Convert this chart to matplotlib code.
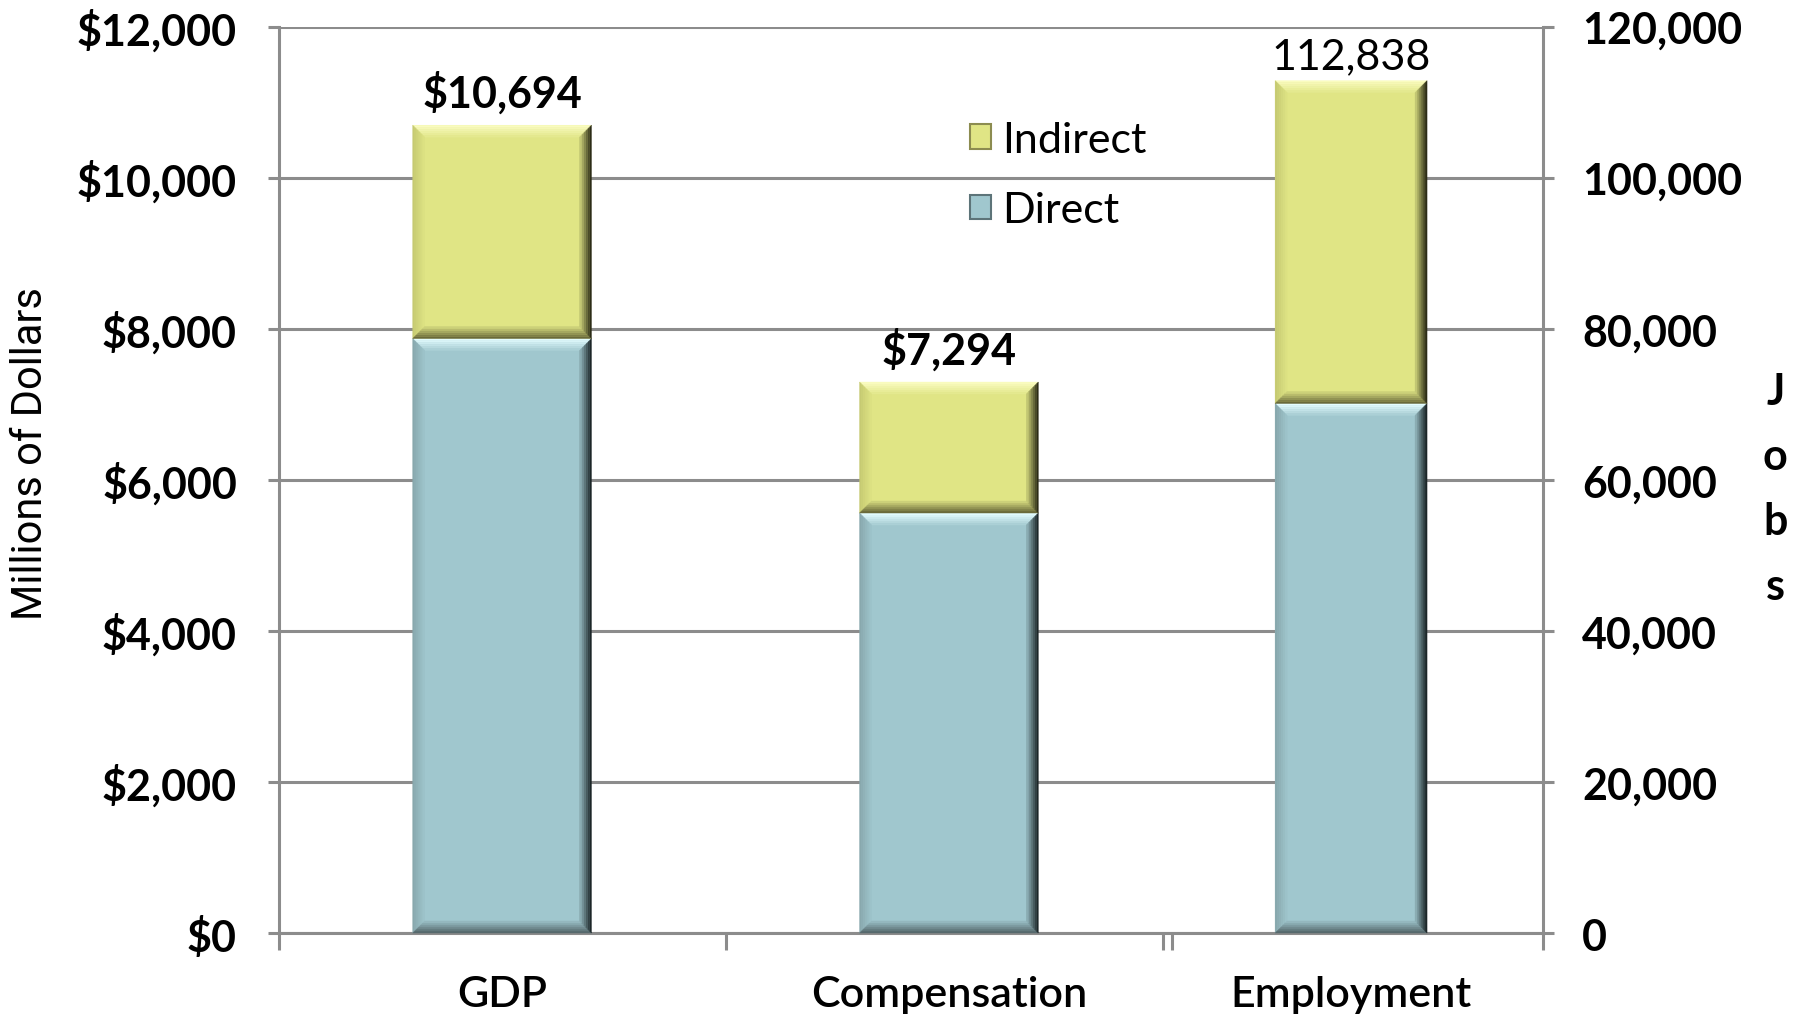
import matplotlib
matplotlib.use("Agg")
import numpy as np
import matplotlib.pyplot as plt
import matplotlib.font_manager as fm
from matplotlib.colors import to_rgb
from matplotlib.patches import Polygon, Patch
from matplotlib.transforms import IdentityTransform
from matplotlib.ticker import FuncFormatter, FixedLocator

# ======================= DONNEES =======================
categories_usd = ["GDP", "Compensation"]
direct_usd = [7870, 5560]          # millions de dollars
indirect_usd = [2824, 1734]
category_jobs = "Employment"
direct_jobs = 70100
indirect_jobs = 42738
y_ticks_usd = [0, 2000, 4000, 6000, 8000, 10000, 12000]
y_ticks_jobs = [0, 20000, 40000, 60000, 80000, 100000, 120000]

# ======================= STYLE =======================
C_DIRECT = "#a0c7ce"
C_INDIRECT = "#e0e585"
C_GRID = "#8c8c8c"
FS = 31

names = {f.name for f in fm.fontManager.ttflist}
MAIN = ["Lato", "DejaVu Sans"]
NARROW = ["Liberation Sans Narrow"] if "Liberation Sans Narrow" in names else ["Roboto", "DejaVu Sans"]
plt.rcParams["font.family"] = MAIN

fig = plt.figure(figsize=(18.06, 10.2), dpi=100)
ax = fig.add_axes([0.1543, 0.0843, 0.7002, 0.8887])
ax2 = ax.twinx()

# positions (unites de categorie du 1er axe)
x_usd = [0, 1]
x_jobs = 1.90
w_usd = 0.40
w_jobs = 0.34
X_MIN, X_MAX = -0.5, 2.33

ax.set_xlim(X_MIN, X_MAX)
ax.set_ylim(0, 12000)
ax2.set_ylim(0, 120000)

b1 = ax.bar(x_usd, direct_usd, w_usd, color=C_DIRECT, zorder=3, linewidth=0)
b2 = ax.bar(x_usd, indirect_usd, w_usd, bottom=direct_usd, color=C_INDIRECT, zorder=3, linewidth=0)
b3 = ax2.bar([x_jobs], [direct_jobs], w_jobs, color=C_DIRECT, zorder=3, linewidth=0)
b4 = ax2.bar([x_jobs], [indirect_jobs], w_jobs, bottom=[direct_jobs], color=C_INDIRECT, zorder=3, linewidth=0)

# grille / axes
for v in y_ticks_usd:
    ax.axhline(v, color=C_GRID, lw=2.2, zorder=1)
ax.set_yticks(y_ticks_usd)
ax2.set_yticks(y_ticks_jobs)
ax.yaxis.set_major_formatter(FuncFormatter(lambda v, p: f"${v:,.0f}"))
ax2.yaxis.set_major_formatter(FuncFormatter(lambda v, p: f"{v:,.0f}"))
for a in (ax, ax2):
    a.spines["top"].set_visible(False)
    for s in ("left", "right", "bottom"):
        a.spines[s].set_color(C_GRID)
        a.spines[s].set_linewidth(2.2)
ax.spines["right"].set_visible(False)
ax2.spines["left"].set_visible(False)
ax2.spines["bottom"].set_visible(False)

ax.tick_params(axis="y", length=8, width=2.2, color=C_GRID, pad=22, labelsize=FS)
ax2.tick_params(axis="y", length=8, width=2.2, color=C_GRID, pad=20, labelsize=FS)
for lab in ax.get_yticklabels() + ax2.get_yticklabels():
    lab.set_fontweight("bold")

ax.xaxis.set_major_locator(FixedLocator([X_MIN, 0.5, 1.48, 1.5, X_MAX]))
ax.xaxis.set_major_formatter(FuncFormatter(lambda v, p: ""))
ax.xaxis.set_minor_locator(FixedLocator(x_usd + [x_jobs]))
ax.set_xticklabels(categories_usd + [category_jobs], minor=True)
ax.tick_params(axis="x", which="major", length=12, width=2.2, color=C_GRID)
ax.tick_params(axis="x", which="minor", length=0, pad=30, labelsize=FS)
for lab in ax.get_xticklabels(minor=True):
    lab.set_fontweight("semibold")

ax.set_ylabel("Millions of Dollars", fontsize=FS - 1, family=NARROW, va="center")
ax.yaxis.set_label_coords(-0.196, 0.53)
fig.text(0.983, 0.52, "J\no\nb\ns", fontsize=FS, fontweight="bold",
         ha="center", va="center", linespacing=1.75)

# etiquettes de total
for x, d, i in zip(x_usd, direct_usd, indirect_usd):
    ax.annotate(f"${d + i:,.0f}", (x, d + i), xytext=(0, 8), textcoords="offset points",
                ha="center", va="bottom", fontsize=FS, fontweight="bold")
ax2.annotate(f"{direct_jobs + indirect_jobs:,.0f}", (x_jobs, direct_jobs + indirect_jobs),
             xytext=(0, 4), textcoords="offset points", ha="center", va="bottom", fontsize=FS)

# legende
handles = [Patch(facecolor=C_INDIRECT, edgecolor="#8c8c50", linewidth=1.5, label="Indirect"),
           Patch(facecolor=C_DIRECT, edgecolor="#5d7479", linewidth=1.5, label="Direct")]
leg = ax.legend(handles=handles, loc="upper left", bbox_to_anchor=(0.533, 0.915), frameon=False,
                fontsize=FS, handlelength=0.5, handleheight=0.5, handletextpad=0.25,
                labelspacing=0.75, borderaxespad=0)
leg.set_zorder(6)


# effet biseau sur les barres (degrade de chaque bord vers la couleur de fond)
def biseau(a, rect, face, haut, gauche, bas, droite, b=12, n=6):
    (x0, y0) = a.transData.transform((rect.get_x(), rect.get_y()))
    (x1, y1) = a.transData.transform((rect.get_x() + rect.get_width(), rect.get_y() + rect.get_height()))
    f = np.array(to_rgb(face))
    for k in range(n):
        t0, t1 = b * k / n, b * (k + 1) / n
        mix = k / n
        cotes = [
            ([(x0 + t0, y1 - t0), (x1 - t0, y1 - t0), (x1 - t1, y1 - t1), (x0 + t1, y1 - t1)], haut),
            ([(x0 + t0, y0 + t0), (x0 + t0, y1 - t0), (x0 + t1, y1 - t1), (x0 + t1, y0 + t1)], gauche),
            ([(x0 + t0, y0 + t0), (x1 - t0, y0 + t0), (x1 - t1, y0 + t1), (x0 + t1, y0 + t1)], bas),
            ([(x1 - t0, y0 + t0), (x1 - t0, y1 - t0), (x1 - t1, y1 - t1), (x1 - t1, y0 + t1)], droite),
        ]
        for pts, c in cotes:
            col = np.array(to_rgb(c)) * (1 - mix) + f * mix
            fig.add_artist(Polygon(pts, closed=True, facecolor=col, edgecolor=col, linewidth=0.3,
                                   transform=IdentityTransform(), zorder=4))


for a, bars, col in ((ax, b1, "d"), (ax, b2, "i"), (ax2, b3, "d"), (ax2, b4, "i")):
    for r in bars:
        if col == "d":
            biseau(a, r, C_DIRECT, "#e4fdff", "#88a8ad", "#56696d", "#1c2628")
        else:
            biseau(a, r, C_INDIRECT, "#fafcc0", "#c6ca72", "#6a6a3a", "#2c2c16")

fig.savefig("out.png", dpi=100)
